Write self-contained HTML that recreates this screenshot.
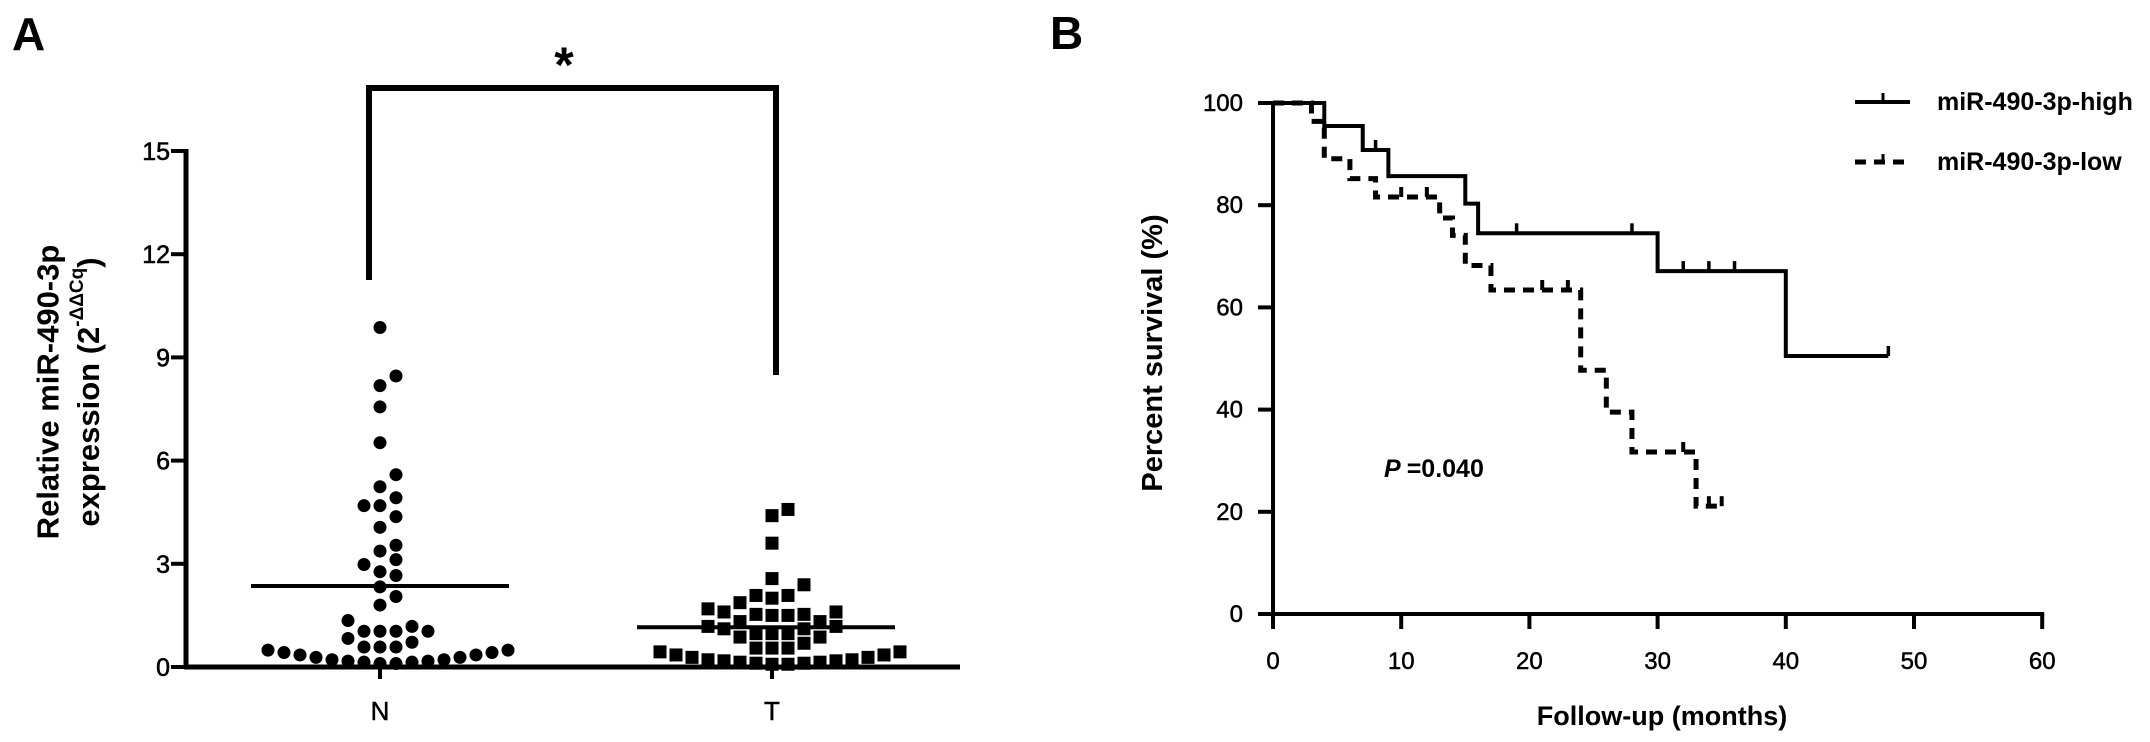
<!DOCTYPE html>
<html><head><meta charset="utf-8"><style>
html,body{margin:0;padding:0;background:#fff;}
svg{display:block;font-family:"Liberation Sans",Arial,sans-serif;}
</style></head><body>
<svg id="fig" width="2150" height="742" viewBox="0 0 2150 742" xmlns="http://www.w3.org/2000/svg">
<g id="panelA"></g>
<g id="panelB"></g>
</svg>
<script>
// ---------- Panel A data ----------
const aCategories = ["N", "T"];
const aValuesN = [9.87,8.46,8.18,7.56,6.52,5.59,5.24,4.92,4.69,4.69,4.37,4.06,3.54,3.37,3.12,2.98,2.77,2.66,2.33,2.05,1.80,1.35,1.18,1.04,1.04,1.04,1.04,0.83,0.72,0.58,0.58,0.58,0.49,0.49,0.42,0.42,0.35,0.35,0.28,0.28,0.21,0.21,0.17,0.17,0.14,0.14,0.10,0.10];
const aValuesT = [4.58,4.40,3.60,2.57,2.39,2.08,2.08,2.00,1.87,1.69,1.60,1.60,1.53,1.53,1.50,1.50,1.32,1.32,1.18,1.18,1.11,1.11,0.97,0.97,0.97,0.87,0.87,0.69,0.55,0.55,0.55,0.44,0.44,0.35,0.35,0.28,0.28,0.21,0.21,0.18,0.18,0.14,0.14,0.11,0.11,0.08,0.08];
const aYTicks = [0,3,6,9,12,15];

// ---------- Panel B data ----------
const bHighTimes = [0,4,7,9,15,16,30,40];
const bHighSurv  = [100,95.5,90.8,85.7,80.3,74.5,67.1,50.5];
const bHighEnd = 48;
const bHighCensor = [8,19,28,32,34,36,48];
const bLowTimes = [0,3,4,6,8,13,14,15,17,24,26,28,33];
const bLowSurv  = [100,96.4,89.1,85.2,81.6,77.5,74.1,68.2,63.4,47.7,39.5,31.7,21.1];
const bLowEnd = 35;
const bLowCensor = [10,12,21,23,32,34,35];
const bXTicks = [0,10,20,30,40,50,60];
const bYTicks = [0,20,40,60,80,100];

const NS = "http://www.w3.org/2000/svg";
function mk(parent, tag, attrs, text){
  const e = document.createElementNS(NS, tag);
  for (const k in attrs) e.setAttribute(k, attrs[k]);
  if (text !== undefined) e.textContent = text;
  parent.appendChild(e);
  return e;
}

// ================= PANEL A =================
const A = document.getElementById("panelA");
const aX0 = 186, aXEnd = 960, aY0 = 667, aYTop = 151;
const aYscale = v => aY0 - v * (aY0 - aYTop) / 15;
const aCatX = c => 380 + aCategories.indexOf(c) * 392;

let t;
t = mk(A, "text", {x: 12, y: 50, "font-size": 46, "font-weight": "bold"}, "A");



let ln;
ln = mk(A, "line", {x1: aX0, y1: aYTop-2, x2: aX0, y2: aY0+2, stroke: "#000", "stroke-width": 5});


ln = mk(A, "line", {x1: aX0-2, y1: aY0, x2: aXEnd, y2: aY0, stroke: "#000", "stroke-width": 5});



aYTicks.forEach(v => {
  const y = aYscale(v);
  const tk = mk(A, "line", {x1: aX0-15, y1: y, x2: aX0, y2: y, stroke: "#000", "stroke-width": 4});
  
  
  const lb = mk(A, "text", {x: 170, y: y+9, "font-size": 25, "text-anchor": "end", stroke: "#000", "stroke-width": 0.6}, String(v));
  
  
});
aCategories.forEach(c => {
  const x = aCatX(c);
  const tk = mk(A, "line", {x1: x, y1: aY0, x2: x, y2: aY0+12, stroke: "#000", "stroke-width": 4});
  
  
  const lb = mk(A, "text", {x: x, y: 720, "font-size": 26, "text-anchor": "middle", stroke: "#000", "stroke-width": 0.5}, c);
  
  
});

// y-axis title
const yt = mk(A, "text", {transform: "translate(48,392) rotate(-90)", "font-size": 31, "font-weight": "bold", "text-anchor": "middle", "dominant-baseline": "central"}, "Relative miR-490-3p");


const yt2 = mk(A, "text", {transform: "translate(88,392) rotate(-90)", "font-size": 31, "font-weight": "bold", "text-anchor": "middle", "dominant-baseline": "central"});


mk(yt2, "tspan", {}, "expression (2");
mk(yt2, "tspan", {"font-size": 19, dy: -11}, "-ΔΔCq");
mk(yt2, "tspan", {dy: 11}, ")");

// beeswarm
function swarm(vals, cx, r, gap){
  const placed = [];
  [...vals].sort((a,b)=>a-b).forEach(v => {
    const y = aYscale(v);
    for (let k = 0; k < 60; k++){
      const off = k === 0 ? 0 : (k % 2 ? 1 : -1) * Math.ceil(k/2) * gap;
      const x = cx + off;
      if (!placed.some(p => Math.hypot(p.x-x, p.y-y) < 2*r+1)) { placed.push({x, y, v}); break; }
    }
  });
  return placed;
}
swarm(aValuesN, aCatX("N"), 6.5, 16).forEach(p => {
  const c = mk(A, "circle", {cx: p.x, cy: p.y, r: 6.5, fill: "#000"});
  
  
});
swarm(aValuesT, aCatX("T"), 6.5, 16).forEach(p => {
  const s = mk(A, "rect", {x: p.x-6.5, y: p.y-6.5, width: 13, height: 13, fill: "#000"});
  
  
});
// mean lines
[["N", aValuesN], ["T", aValuesT]].forEach(([c, vals]) => {
  const m = vals.reduce((a,b)=>a+b,0)/vals.length;
  const x = aCatX(c) + (c === "T" ? -6 : 0);
  const ml = mk(A, "line", {x1: x-129, y1: aYscale(m), x2: x+129, y2: aYscale(m), stroke: "#000", "stroke-width": 4});
  
  
});
// significance bracket
const br = mk(A, "path", {d: "M369 280 V88 H776 V375", fill: "none", stroke: "#000", "stroke-width": 6});


const st = mk(A, "text", {x: 564, y: 82, "font-size": 50, "font-weight": "bold", "text-anchor": "middle"}, "*");



// ================= PANEL B =================
const B = document.getElementById("panelB");
const bX0 = 1273, bY0 = 614;
const bx = m => bX0 + m * 12.82;
const by = s => bY0 - s * 5.11;

t = mk(B, "text", {x: 1050, y: 49, "font-size": 46, "font-weight": "bold"}, "B");



ln = mk(B, "line", {x1: bX0, y1: by(100)-2, x2: bX0, y2: bY0+2, stroke: "#000", "stroke-width": 4});


ln = mk(B, "line", {x1: bX0-2, y1: bY0, x2: bx(60)+2, y2: bY0, stroke: "#000", "stroke-width": 4});



bYTicks.forEach(v => {
  const y = by(v);
  const tk = mk(B, "line", {x1: bX0-15, y1: y, x2: bX0, y2: y, stroke: "#000", "stroke-width": 4});
  
  
  const lb = mk(B, "text", {x: 1243, y: y+8, "font-size": 24, "text-anchor": "end", stroke: "#000", "stroke-width": 0.5}, String(v));
  
  
});
bXTicks.forEach(v => {
  const x = bx(v);
  const tk = mk(B, "line", {x1: x, y1: bY0, x2: x, y2: bY0+15, stroke: "#000", "stroke-width": 4});
  
  
  const lb = mk(B, "text", {x: x, y: 669, "font-size": 24, "text-anchor": "middle", stroke: "#000", "stroke-width": 0.5}, String(v));
  
  
});
t = mk(B, "text", {x: 1662, y: 725, "font-size": 27, "font-weight": "bold", "text-anchor": "middle"}, "Follow-up (months)");


t = mk(B, "text", {transform: "translate(1153,353) rotate(-90)", "font-size": 29, "font-weight": "bold", "text-anchor": "middle", "dominant-baseline": "central"}, "Percent survival (%)");


t = mk(B, "text", {x: 1384, y: 477, "font-size": 25, "font-weight": "bold"});


mk(t, "tspan", {"font-style": "italic"}, "P ");
mk(t, "tspan", {}, "=0.040");

function stepPath(times, surv, end){
  let d = "M" + bx(times[0]) + " " + by(surv[0]);
  for (let i = 1; i < times.length; i++){
    d += " H" + bx(times[i]) + " V" + by(surv[i]);
  }
  d += " H" + bx(end);
  return d;
}
function survAt(times, surv, m){
  let s = surv[0];
  for (let i = 0; i < times.length; i++) if (times[i] <= m) s = surv[i];
  return s;
}
const pl = mk(B, "path", {d: stepPath(bLowTimes, bLowSurv, bLowEnd), fill: "none", stroke: "#000", "stroke-width": 5, "stroke-dasharray": "11 8"});


bLowCensor.forEach(m => {
  const y = by(survAt(bLowTimes, bLowSurv, m));
  const c = mk(B, "line", {x1: bx(m), y1: y, x2: bx(m), y2: y-10, stroke: "#000", "stroke-width": 4});
  
  
});
const ph = mk(B, "path", {d: stepPath(bHighTimes, bHighSurv, bHighEnd), fill: "none", stroke: "#000", "stroke-width": 4});


bHighCensor.forEach(m => {
  const y = by(survAt(bHighTimes, bHighSurv, m));
  const c = mk(B, "line", {x1: bx(m), y1: y, x2: bx(m), y2: y-10, stroke: "#000", "stroke-width": 3.5});
  
  
});

// legend
let lg = mk(B, "line", {x1: 1855, y1: 102, x2: 1910, y2: 102, stroke: "#000", "stroke-width": 4});


lg = mk(B, "line", {x1: 1883, y1: 102, x2: 1883, y2: 93, stroke: "#000", "stroke-width": 3});


lg = mk(B, "text", {x: 1937, y: 110, "font-size": 25, "font-weight": "bold"}, "miR-490-3p-high");


lg = mk(B, "line", {x1: 1855, y1: 162, x2: 1912, y2: 162, stroke: "#000", "stroke-width": 5, "stroke-dasharray": "11 8"});


lg = mk(B, "line", {x1: 1883, y1: 162, x2: 1883, y2: 154, stroke: "#000", "stroke-width": 3});


lg = mk(B, "text", {x: 1937, y: 170, "font-size": 25, "font-weight": "bold"}, "miR-490-3p-low");


</script>
</body></html>
